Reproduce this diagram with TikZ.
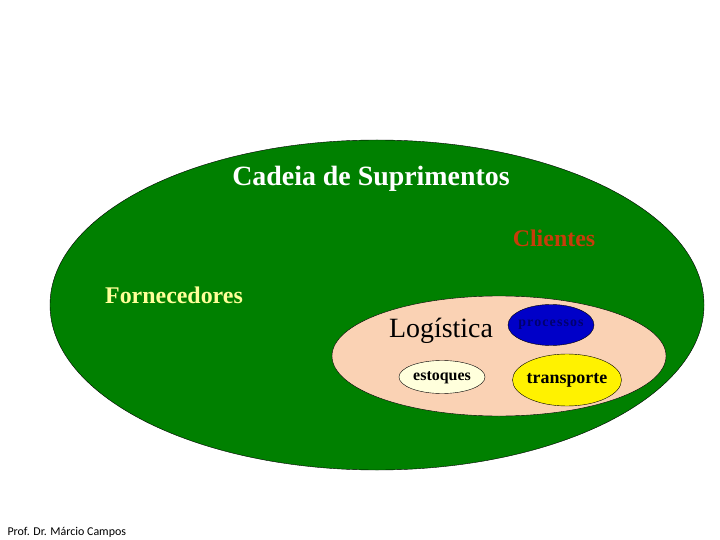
\documentclass[tikz,border=0pt]{standalone}
\usepackage{fontspec}
\setmainfont{Liberation Serif}
\newfontfamily\footfont{Carlito}
\usetikzlibrary{shapes.geometric}

\definecolor{cadeiagreen}{RGB}{0,128,0}
\definecolor{logpeach}{RGB}{250,210,180}
\definecolor{procblue}{RGB}{0,0,200}
\definecolor{proctext}{RGB}{0,0,110}
\definecolor{clientred}{RGB}{200,60,10}
\definecolor{fornyellow}{RGB}{255,255,153}
\definecolor{estcream}{RGB}{255,255,220}

\tikzset{
  blob/.style={ellipse, draw=black, inner sep=0pt},
}

\begin{document}
\begin{tikzpicture}[x=1bp, y=-1bp]
        \useasboundingbox (0,0) rectangle (720,540);
        \node[blob, fill=cadeiagreen, minimum width=654bp, minimum height=330bp] (cadeia) at (377,305) {};
        \node[blob, fill=logpeach, minimum width=334bp, minimum height=120bp] (logistica) at (499,356) {};
        \node[blob, fill=procblue, minimum width=86bp, minimum height=41bp] (processos) at (551,325) {};
        \node[blob, fill=yellow, minimum width=109bp, minimum height=52bp] (transporte) at (567,380) {};
        \node[blob, fill=estcream, minimum width=86bp, minimum height=33bp] (estoques) at (442,377) {};
        \node[font = {\fontsize{28}{32}\selectfont\bfseries}, white] (tcadeia) at (371,179) {Cadeia de Suprimentos};
        \node[font = {\fontsize{24}{28}\selectfont\bfseries}, clientred] (tclientes) at (554,238) {Clientes};
        \node[font = {\fontsize{24}{28}\selectfont\bfseries}, fornyellow] (tforn) at (174,295) {Fornecedores};
        \node[font = {\fontsize{28}{32}\selectfont}, black] (tlog) at (441,331) {Log\'istica};
        \node[font = {\fontsize{14}{17}\selectfont\bfseries\addfontfeature{LetterSpace=8}}, proctext] (tproc) at (551,325) {processos};
        \node[font = {\fontsize{18}{21}\selectfont\bfseries}, black] (ttransp) at (567,380) {transporte};
        \node[font = {\fontsize{16}{19}\selectfont\bfseries}, black] (test) at (442,378) {estoques};
        \node[font = {\footfont\fontsize{12}{14}\selectfont}, black, anchor=west] (autor) at (4,532) {Prof. Dr. M\'arcio Campos};
    \end{tikzpicture}
\end{document}
